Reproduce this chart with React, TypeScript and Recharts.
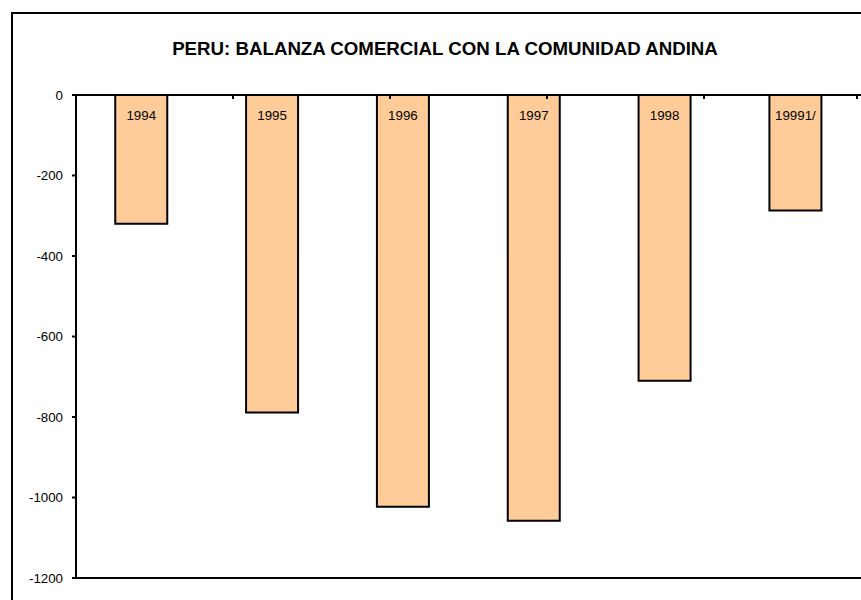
import React from 'react';
import { BarChart, Bar, XAxis, YAxis, ReferenceLine, LabelList } from 'recharts';

const years = ['1994', '1995', '1996', '1997', '1998', '19991/'];
const balance = [-320, -789, -1023, -1058, -710, -287];
const yTicks = [0, -200, -400, -600, -800, -1000, -1200];
const boundaryTicks = [1, 2, 3, 4, 5];
const title = 'PERU: BALANZA COMERCIAL CON LA COMUNIDAD ANDINA';

const data = years.map((y, i) => ({ year: y, value: balance[i] }));

const FONT = 'Arial, "Liberation Sans", sans-serif';

const YearLabel = (props: any) => {
  const vb = props.viewBox ?? props;
  const x = Number(vb.x);
  const y = Number(vb.y);
  const w = Number(vb.width);
  const h = Number(vb.height);
  const top = Math.min(y, y + h);
  return (
    <text x={x + w / 2} y={top + 24.5} textAnchor="middle" fontFamily={FONT} fontSize={13.3} fill="#000">
      {props.value}
    </text>
  );
};

// y-axis tick: label + tick mark (+ axis line drawn from the 0 tick)
const YTick = (props: any) => {
  const x = Number(props.x);
  const y = Number(props.y);
  const axisH = Number(props.height) || 483;
  const value = props.payload ? props.payload.value : null;
  return (
    <g>
      <text x={x} y={y} dy="0.355em" textAnchor="end" fontFamily={FONT} fontSize={13.3} fill="#000">
        {value}
      </text>
      <rect x={x + 9} y={y - 1} width={4} height={2} fill="#000" />
      {value === 0 ? <rect x={x + 12} y={y - 1} width={2} height={axisH + 2} fill="#000" /> : null}
    </g>
  );
};

// boundary tick marks hanging below the category axis line
const BoundaryTick = (props: any) => {
  const x = Number(props.x);
  const y = Number(props.y);
  return <rect x={x - 1} y={y - 4} width={2} height={4} fill="#000" />;
};

export default function App() {
  return (
    <div style={{ position: 'absolute', left: 0, top: 0, width: 861, height: 600, overflow: 'hidden', background: '#fff' }}>
      <BarChart width={861} height={600} data={data} margin={{ top: 94, right: 0, bottom: 22, left: 0 }} barCategoryGap="30%">
        <rect x={12} y={13} width={900} height={700} fill="none" stroke="#000" strokeWidth={2} />
        <text x={445} y={55} textAnchor="middle" fontFamily={FONT} fontWeight="bold" fontSize={18.7} fill="#000">
          {title}
        </text>
        <XAxis xAxisId="cat" dataKey="year" orientation="top" height={1} tick={false} tickLine={false} axisLine stroke="#000" strokeWidth={2} />
        <XAxis xAxisId="ticks" type="number" domain={[0, 6]} ticks={boundaryTicks} allowDataOverflow orientation="top" mirror height={1} tick={BoundaryTick} tickSize={4} tickMargin={0} tickLine={false} axisLine={false} />
        <YAxis domain={[-1200, 0]} ticks={yTicks} width={76} interval={0} tickSize={4} tickMargin={9} axisLine={false} tickLine={false} tick={YTick} allowDataOverflow />
        <ReferenceLine xAxisId="cat" y={-1200} stroke="#000" strokeWidth={2} />
        <Bar xAxisId="cat" dataKey="value" fill="#FFCC99" stroke="#000" strokeWidth={2} isAnimationActive={false}>
          <LabelList dataKey="year" content={YearLabel} />
        </Bar>
      </BarChart>
    </div>
  );
}
